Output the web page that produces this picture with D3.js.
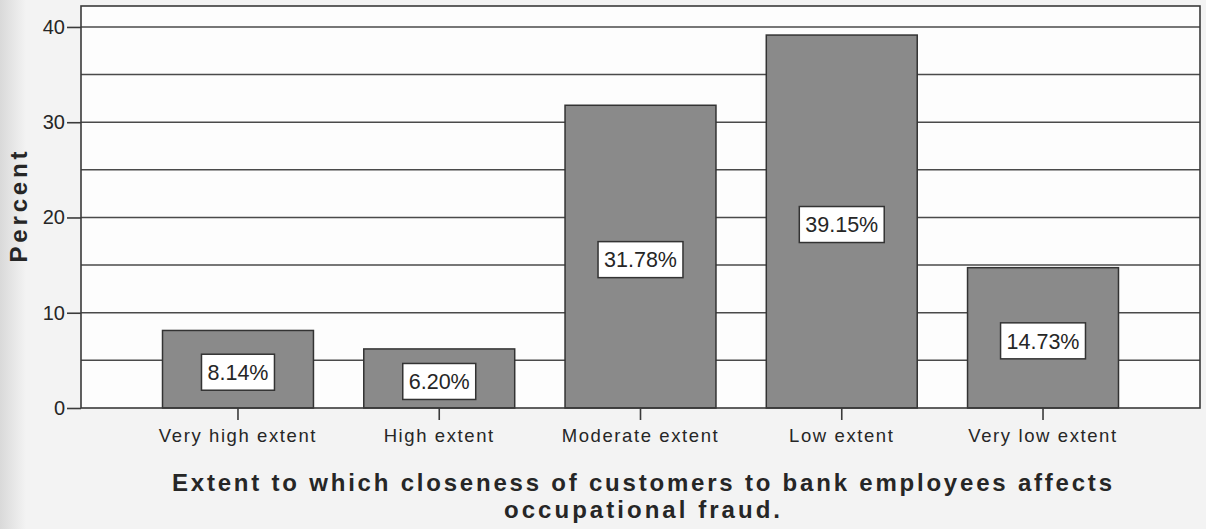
<!DOCTYPE html>
<html>
<head>
<meta charset="utf-8">
<script src="https://cdn.jsdelivr.net/npm/d3@7"></script>
<style>
  html, body { margin: 0; padding: 0; }
  body { width: 1206px; height: 529px; overflow: hidden; background: #f3f3f3; }
  svg { display: block; }
  text { font-family: "Liberation Sans", Arial, sans-serif; fill: #262626; }
</style>
</head>
<body>
<svg id="chart" width="1206" height="529"></svg>
<script>
// Categories and percentages
const categories = ["Very high extent", "High extent", "Moderate extent", "Low extent", "Very low extent"];
const percents = [8.14, 6.20, 31.78, 39.15, 14.73];
const yTicks = [0, 10, 20, 30, 40];
const gridValues = [5, 10, 15, 20, 25, 30, 35, 40];
const titleLines = ["Extent to which closeness of customers to bank employees affects", "occupational fraud."];
const yTitle = "Percent";

const svg = d3.select("#chart");
const W = 1206, H = 529;
const plot = { left: 81, right: 1200, top: 6, bottom: 408 };

// soft shading along the left page edge
const defs = svg.append("defs");
const grad = defs.append("linearGradient").attr("id", "edge").attr("x1", 0).attr("x2", 1);
grad.append("stop").attr("offset", 0).attr("stop-color", "#d9d9d9");
grad.append("stop").attr("offset", 1).attr("stop-color", "#f3f3f3");
svg.append("rect").attr("x", 0).attr("y", 0).attr("width", 26).attr("height", H).attr("fill", "url(#edge)");

const x = d3.scaleBand()
  .domain(categories)
  .range([plot.left, plot.right])
  .paddingInner(0.25)
  .paddingOuter(0.405);

const y = d3.scaleLinear()
  .domain([0, 42.2])
  .range([plot.bottom, plot.top]);

// plot area
svg.append("rect")
  .attr("x", plot.left).attr("y", plot.top)
  .attr("width", plot.right - plot.left).attr("height", plot.bottom - plot.top)
  .attr("fill", "#fdfdfd");

// horizontal gridlines
svg.append("g").selectAll("line").data(gridValues).join("line")
  .attr("x1", plot.left).attr("x2", plot.right)
  .attr("y1", d => y(d)).attr("y2", d => y(d))
  .attr("stroke", "#4a4a4a").attr("stroke-width", 1.5);

// bars
svg.append("g").selectAll("rect").data(percents).join("rect")
  .attr("x", (d, i) => x(categories[i]))
  .attr("y", d => y(d))
  .attr("width", x.bandwidth())
  .attr("height", d => y(0) - y(d))
  .attr("fill", "#8a8a8a")
  .attr("stroke", "#333")
  .attr("stroke-width", 1.5);

// frame
svg.append("rect")
  .attr("x", plot.left).attr("y", plot.top)
  .attr("width", plot.right - plot.left).attr("height", plot.bottom - plot.top)
  .attr("fill", "none").attr("stroke", "#3a3a3a").attr("stroke-width", 1.6);

const fontStack = '"Liberation Sans", Arial, sans-serif';

// y axis
const yAxis = d3.axisLeft(y).tickValues(yTicks).tickSize(14).tickPadding(2).tickFormat(d3.format("d"));
const gy = svg.append("g").attr("transform", `translate(${plot.left},0)`).call(yAxis);
gy.select(".domain").remove();
gy.selectAll(".tick line").attr("stroke", "#3a3a3a").attr("stroke-width", 1.6);
gy.selectAll(".tick text").attr("font-size", 20).attr("fill", "#262626")
  .style("font-family", fontStack);

// x axis
const xAxis = d3.axisBottom(x).tickSize(12).tickPadding(9);
const gx = svg.append("g").attr("transform", `translate(0,${plot.bottom})`).call(xAxis);
gx.select(".domain").remove();
gx.selectAll(".tick line").attr("stroke", "#3a3a3a").attr("stroke-width", 1.6);
gx.selectAll(".tick text").attr("font-size", 18.5).attr("fill", "#262626")
  .attr("letter-spacing", "1.6px")
  .style("font-family", fontStack);

// value labels in white boxes
const lab = svg.append("g").selectAll("g").data(percents).join("g")
  .attr("transform", (d, i) => `translate(${x(categories[i]) + x.bandwidth() / 2},${y(d / 2) + 3})`);
lab.each(function (d) {
  const g = d3.select(this);
  const t = g.append("text")
    .attr("text-anchor", "middle")
    .attr("dy", "0.36em")
    .attr("font-size", 21.5)
    .text(d.toFixed(2) + "%");
  const w = t.node().getComputedTextLength() + 12;
  g.insert("rect", "text")
    .attr("x", -w / 2).attr("y", -18)
    .attr("width", w).attr("height", 36)
    .attr("fill", "#fff").attr("stroke", "#333").attr("stroke-width", 1.5);
});

// y axis title
svg.append("text")
  .attr("transform", "translate(27,207) rotate(-90)")
  .attr("text-anchor", "middle")
  .attr("font-size", 24).attr("font-weight", "bold")
  .attr("textLength", 111).attr("lengthAdjust", "spacing")
  .text(yTitle);

// chart title, two lines
const titleWidths = [940, 276];
svg.append("g").selectAll("text").data(titleLines).join("text")
  .attr("x", 642)
  .attr("y", (d, i) => 491 + i * 27)
  .attr("text-anchor", "middle")
  .attr("font-size", 24).attr("font-weight", "bold")
  .attr("textLength", (d, i) => titleWidths[i]).attr("lengthAdjust", "spacing")
  .text(d => d);
</script>
</body>
</html>
